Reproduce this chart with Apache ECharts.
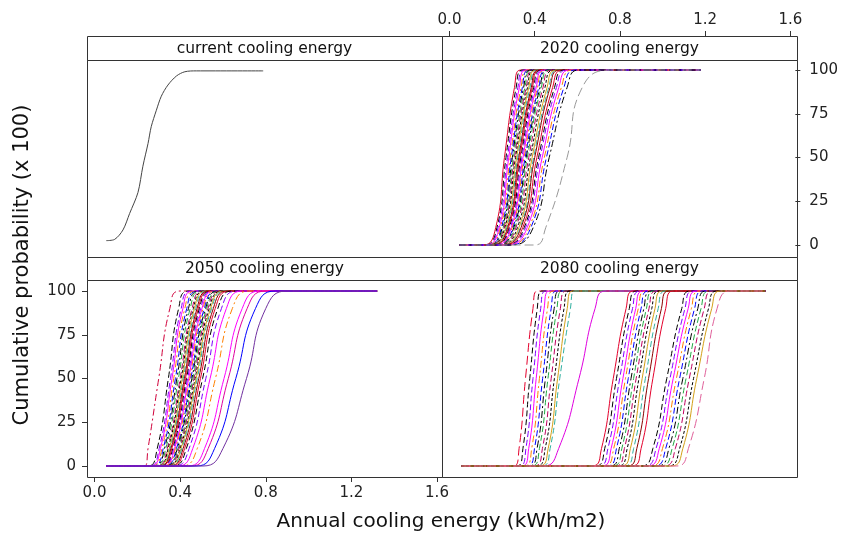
<!DOCTYPE html>
<html><head><meta charset="utf-8">
<script src="https://cdn.jsdelivr.net/npm/echarts@6/dist/echarts.min.js"></script>
<style>html,body{margin:0;padding:0;background:#fff}#c{width:841px;height:534px}</style>
</head><body><div id="c"></div>
<script>
// ---------- data ----------
const panelTitles = ['current cooling energy', '2020 cooling energy', '2050 cooling energy', '2080 cooling energy'];
const xTitle = 'Annual cooling energy (kWh/m2)';
const yTitle = 'Cumulative probability (x 100)';
const xTicks = [0.0, 0.4, 0.8, 1.2, 1.6];
const yTicks = [0, 25, 50, 75, 100];
// probability levels (x 100) at which each curve's energy values are given
const probLevels = [0, 10, 50, 90, 100];

// current climate: single curve, read point by point
const currentX = [0.055, 0.094, 0.133, 0.164, 0.203, 0.226, 0.250, 0.265, 0.289, 0.312, 0.343, 0.383, 0.422, 0.476, 0.788];
const currentP = [2.5, 3.2, 8.6, 18, 30, 45, 58, 67.6, 77, 85, 91.4, 96.6, 99, 99.5, 99.5];

// flat tails (start of the 0 line, end of the 100 line)
const tails2020 = [0.047, 1.18];
const tails2050 = [0.055, 1.32];
const tails2080 = [0.055, 1.475];

// each curve: energy at probLevels [0, 10, 50, 90, 100]
const curves2020 = [
  [0.160, 0.217, 0.258, 0.305, 0.335], [0.165, 0.223, 0.265, 0.313, 0.345], [0.170, 0.228, 0.272, 0.321, 0.354],
  [0.172, 0.234, 0.278, 0.328, 0.362], [0.177, 0.239, 0.285, 0.336, 0.371], [0.180, 0.244, 0.290, 0.342, 0.377],
  [0.183, 0.248, 0.295, 0.348, 0.384], [0.186, 0.252, 0.300, 0.354, 0.390], [0.189, 0.256, 0.305, 0.360, 0.397],
  [0.192, 0.260, 0.310, 0.366, 0.403], [0.195, 0.265, 0.315, 0.372, 0.410], [0.198, 0.269, 0.320, 0.378, 0.416],
  [0.200, 0.273, 0.325, 0.384, 0.423], [0.205, 0.277, 0.330, 0.389, 0.430], [0.208, 0.281, 0.335, 0.395, 0.436],
  [0.211, 0.286, 0.340, 0.401, 0.442], [0.214, 0.290, 0.345, 0.407, 0.449], [0.217, 0.294, 0.350, 0.413, 0.455],
  [0.220, 0.298, 0.355, 0.419, 0.462], [0.223, 0.302, 0.360, 0.425, 0.468], [0.226, 0.307, 0.365, 0.431, 0.475],
  [0.231, 0.312, 0.372, 0.439, 0.484], [0.236, 0.319, 0.380, 0.448, 0.494], [0.241, 0.326, 0.388, 0.458, 0.504],
  [0.245, 0.332, 0.395, 0.466, 0.514], [0.248, 0.336, 0.400, 0.472, 0.520], [0.254, 0.344, 0.410, 0.484, 0.533],
  [0.259, 0.351, 0.418, 0.493, 0.543], [0.264, 0.357, 0.425, 0.502, 0.553], [0.270, 0.365, 0.435, 0.513, 0.566],
  [0.276, 0.374, 0.445, 0.525, 0.579], [0.282, 0.382, 0.455, 0.537, 0.592], [0.290, 0.393, 0.468, 0.552, 0.608],
  [0.400, 0.452, 0.552, 0.623, 0.760]
];
const curves2050 = [
  [0.234, 0.250, 0.300, 0.352, 0.400],
  [0.248, 0.293, 0.345, 0.393, 0.442], [0.256, 0.302, 0.355, 0.405, 0.454], [0.261, 0.308, 0.362, 0.413, 0.463],
  [0.266, 0.315, 0.370, 0.422, 0.474], [0.272, 0.321, 0.378, 0.431, 0.484], [0.277, 0.327, 0.385, 0.439, 0.493],
  [0.282, 0.333, 0.392, 0.447, 0.502], [0.288, 0.340, 0.400, 0.456, 0.512], [0.292, 0.344, 0.405, 0.462, 0.518],
  [0.295, 0.349, 0.410, 0.467, 0.525], [0.299, 0.353, 0.415, 0.473, 0.531], [0.302, 0.357, 0.420, 0.479, 0.538],
  [0.306, 0.361, 0.425, 0.485, 0.544], [0.310, 0.366, 0.430, 0.490, 0.550], [0.313, 0.370, 0.435, 0.496, 0.557],
  [0.317, 0.374, 0.440, 0.502, 0.563], [0.320, 0.378, 0.445, 0.507, 0.570], [0.324, 0.383, 0.450, 0.513, 0.576],
  [0.328, 0.387, 0.455, 0.519, 0.582], [0.331, 0.391, 0.460, 0.524, 0.589], [0.335, 0.395, 0.465, 0.530, 0.595],
  [0.338, 0.400, 0.470, 0.536, 0.602], [0.342, 0.404, 0.475, 0.542, 0.608], [0.346, 0.408, 0.480, 0.547, 0.614],
  [0.351, 0.414, 0.487, 0.555, 0.623], [0.356, 0.421, 0.495, 0.564, 0.634], [0.364, 0.429, 0.505, 0.576, 0.646],
  [0.374, 0.442, 0.520, 0.593, 0.666], [0.389, 0.459, 0.540, 0.616, 0.691], [0.407, 0.480, 0.565, 0.644, 0.723],
  [0.436, 0.514, 0.605, 0.690, 0.774], [0.450, 0.531, 0.625, 0.713, 0.800], [0.475, 0.561, 0.660, 0.752, 0.845],
  [0.506, 0.600, 0.710, 0.800, 0.900]
];
const curves2080 = [
  [0.300, 0.325, 0.355, 0.390, 0.410], [0.315, 0.343, 0.375, 0.410, 0.432], [0.327, 0.357, 0.390, 0.426, 0.450],
  [0.338, 0.370, 0.405, 0.442, 0.467], [0.350, 0.384, 0.420, 0.458, 0.484], [0.362, 0.397, 0.435, 0.475, 0.500],
  [0.372, 0.409, 0.448, 0.489, 0.515], [0.382, 0.420, 0.460, 0.502, 0.528], [0.394, 0.434, 0.475, 0.518, 0.545],
  [0.405, 0.447, 0.490, 0.535, 0.562], [0.418, 0.461, 0.505, 0.550, 0.575], [0.430, 0.470, 0.515, 0.565, 0.585],
  [0.440, 0.510, 0.605, 0.680, 0.730],
  [0.665, 0.710, 0.765, 0.825, 0.860], [0.680, 0.725, 0.780, 0.840, 0.875], [0.695, 0.740, 0.795, 0.855, 0.890],
  [0.710, 0.755, 0.810, 0.870, 0.905], [0.720, 0.767, 0.822, 0.882, 0.917], [0.735, 0.780, 0.835, 0.895, 0.930],
  [0.748, 0.793, 0.848, 0.908, 0.943], [0.760, 0.805, 0.860, 0.920, 0.955], [0.772, 0.817, 0.872, 0.932, 0.967],
  [0.785, 0.830, 0.885, 0.945, 0.980], [0.800, 0.845, 0.900, 0.960, 0.995], [0.815, 0.860, 0.915, 0.975, 1.010],
  [0.830, 0.875, 0.930, 0.990, 1.025], [0.850, 0.895, 0.950, 1.010, 1.045],
  [0.895, 0.950, 1.015, 1.085, 1.125], [0.910, 0.965, 1.030, 1.100, 1.140], [0.925, 0.980, 1.045, 1.115, 1.155],
  [0.940, 0.995, 1.060, 1.130, 1.170], [0.955, 1.010, 1.075, 1.145, 1.185], [0.970, 1.025, 1.090, 1.160, 1.200],
  [0.985, 1.040, 1.105, 1.175, 1.215], [1.000, 1.055, 1.120, 1.190, 1.230], [1.020, 1.075, 1.140, 1.210, 1.250],
  [1.035, 1.090, 1.155, 1.225, 1.265],
  [1.060, 1.116, 1.190, 1.250, 1.310]
];

// ---------- styles ----------
const FONT = '"DejaVu Sans", Verdana, sans-serif';
const DASH = [6, 3], DASHDOT = [7, 3, 2, 3], DOT = [3, 2], LONG = [9, 4];
const styleCycle = [
  ['#e4002b', 'solid'], ['#000000', DASH], ['#8000ff', DASH], ['#ff00ff', 'solid'],
  ['#ff8000', DASHDOT], ['#0000ff', DASH], ['#000000', DASHDOT], ['#22aa44', DASH],
  ['#c00060', DASH], ['#000000', DOT], ['#d4a017', 'solid'], ['#30b0a0', DASH], ['#8b0000', 'solid']
];
const overrides = {
  '2020': { 33: ['#999999', LONG] },
  '2050': { 0: ['#d0003a', DASHDOT], 31: ['#ff00ff', 'solid'], 32: ['#e000a0', 'solid'], 33: ['#0000ff', 'solid'], 34: ['#7030a0', 'solid'] },
  '2080': { 0: ['#e4002b', LONG], 12: ['#e000e0', 'solid'], 37: ['#e0609a', LONG] }
};

// panel frames (px)
const L = 87, M = 442, R = 797;
const stripTop = [36, 257], plotTop = [60, 280], plotBot = [257, 477];
const gridW = 342.5, gridH = 175;
const grids = [
  { left: 94.5, top: 70, width: gridW, height: gridH },
  { left: 449.5, top: 70, width: gridW, height: gridH },
  { left: 94.5, top: 291, width: gridW, height: gridH },
  { left: 449.5, top: 291, width: gridW, height: gridH }
];

const axisCommon = (extra) => Object.assign({
  type: 'value', axisLine: { show: false, onZero: false }, splitLine: { show: false },
  axisTick: { show: true, length: 5, lineStyle: { color: '#333', width: 1 } }
}, extra);

const xAxes = [0, 1, 2, 3].map(i => {
  const show = (i === 1 || i === 2);
  return axisCommon({
    gridIndex: i, min: xTicks[0], max: xTicks[xTicks.length - 1], interval: xTicks[1] - xTicks[0],
    show: show, position: i === 1 ? 'top' : 'bottom', offset: i === 1 ? 34 : 11,
    axisLabel: { color: '#222', fontSize: 15, fontFamily: FONT, margin: i === 1 ? 8 : 9, formatter: v => v.toFixed(1) }
  });
});
const yAxes = [0, 1, 2, 3].map(i => {
  const show = (i === 1 || i === 2);
  return axisCommon({
    gridIndex: i, min: yTicks[0], max: yTicks[yTicks.length - 1], interval: yTicks[1] - yTicks[0],
    show: show, position: i === 1 ? 'right' : 'left', offset: i === 1 ? 5 : 7.5,
    axisLabel: { color: '#222', fontSize: 15, fontFamily: FONT, margin: i === 1 ? 14 : 11 }
  });
});

const series = [];
series.push({
  type: 'line', xAxisIndex: 0, yAxisIndex: 0, showSymbol: false, smooth: 0.3,
  clip: false, silent: true, lineStyle: { color: '#444', width: 1 },
  data: currentX.map((x, k) => [x, currentP[k]])
});
function addPanel(curves, tails, idx, key) {
  curves.forEach((q, c) => {
    const st = (overrides[key] && overrides[key][c]) || styleCycle[c % styleCycle.length];
    const data = [[tails[0], probLevels[0]]].concat(q.map((x, k) => [x, probLevels[k]])).concat([[tails[1], probLevels[probLevels.length - 1]]]);
    series.push({
      type: 'line', xAxisIndex: idx, yAxisIndex: idx, showSymbol: false, smooth: 0.5,
      clip: false, silent: true, lineStyle: { color: st[0], type: st[1], width: 1 }, data
    });
  });
}
addPanel(curves2020, tails2020, 1, '2020');
addPanel(curves2050, tails2050, 2, '2050');
addPanel(curves2080, tails2080, 3, '2080');

const graphic = [];
const frame = { fill: 'none', stroke: '#333', lineWidth: 1 };
[[L, 0], [M, 0], [L, 1], [M, 1]].forEach(([x, r], i) => {
  graphic.push({ type: 'rect', shape: { x: x + 0.5, y: stripTop[r] + 0.5, width: M - L, height: plotTop[r] - stripTop[r] }, style: frame, z: 100 });
  graphic.push({ type: 'rect', shape: { x: x + 0.5, y: plotTop[r] + 0.5, width: M - L, height: plotBot[r] - plotTop[r] }, style: frame, z: 100 });
  graphic.push({ type: 'text', x: x + (M - L) / 2, y: (stripTop[r] + plotTop[r]) / 2 + 0.5, z: 101,
    style: { text: panelTitles[i], font: '15.5px ' + FONT, fill: '#111', align: 'center', verticalAlign: 'middle', textAlign: 'center', textVerticalAlign: 'middle' } });
});
graphic.push({ type: 'text', x: 441, y: 522, z: 101,
  style: { text: xTitle, font: '20px ' + FONT, fill: '#111', align: 'center', verticalAlign: 'middle', textAlign: 'center', textVerticalAlign: 'middle' } });
graphic.push({ type: 'text', x: 23, y: 265, rotation: Math.PI / 2, z: 101,
  style: { text: yTitle, font: '21px ' + FONT, fill: '#111', align: 'center', verticalAlign: 'middle', textAlign: 'center', textVerticalAlign: 'middle' } });

const chart = echarts.init(document.getElementById('c'), null, { renderer: 'canvas' });
chart.setOption({
  animation: false, backgroundColor: '#fff',
  grid: grids, xAxis: xAxes, yAxis: yAxes, series, graphic
});
</script></body></html>
